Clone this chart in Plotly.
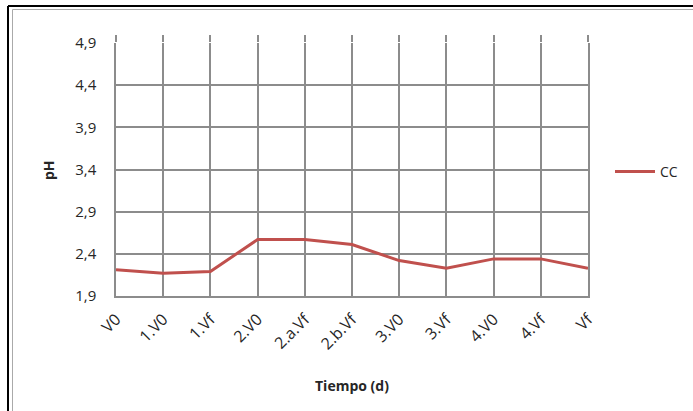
import plotly.graph_objects as go

categories = ["V0", "1.V0", "1.Vf", "2.V0", "2.a.Vf", "2.b.Vf", "3.V0", "3.Vf", "4.V0", "4.Vf", "Vf"]
cc_values = [2.21, 2.17, 2.19, 2.57, 2.57, 2.51, 2.32, 2.23, 2.34, 2.34, 2.23]
y_ticks = [1.9, 2.4, 2.9, 3.4, 3.9, 4.4, 4.9]
y_tick_labels = ["1,9", "2,4", "2,9", "3,4", "3,9", "4,4", "4,9"]

FONT = "Open Sans"
GRID = "#8c8c8c"
TXT = "#262626"

fig = go.Figure()
fig.add_trace(go.Scatter(
    x=list(range(len(categories))), y=cc_values, mode="lines", name="CC",
    line=dict(color="#C0504D", width=3),
))
# invisible trace for top tick marks
fig.add_trace(go.Scatter(x=[0, len(categories) - 1], y=[None, None], xaxis="x2",
                         showlegend=False, hoverinfo="skip"))

PW, PH, L, T = 472, 253, 116, 43

fig.update_layout(
    width=693, height=411,
    margin=dict(l=L, r=693 - L - PW, t=T, b=411 - T - PH, autoexpand=False),
    paper_bgcolor="white", plot_bgcolor="white",
    font=dict(family=FONT, size=12, color=TXT),
    xaxis=dict(
        range=[0, len(categories) - 1], automargin=False,
        tickmode="array", tickvals=list(range(len(categories))), ticktext=categories,
        tickangle=-45, showgrid=True, gridcolor=GRID, gridwidth=1.5,
        showline=True, linecolor=GRID, linewidth=1.5, mirror=False,
        ticks="", zeroline=False, ticklabelstandoff=6,
        tickfont=dict(family=FONT, size=16, color=TXT),
    ),
    xaxis2=dict(
        overlaying="x", side="top", range=[0, len(categories) - 1], automargin=False,
        tickmode="array", tickvals=list(range(len(categories))), showticklabels=False,
        ticks="outside", ticklen=7, tickcolor=GRID, tickwidth=1.5,
        showgrid=False, showline=False, zeroline=False,
    ),
    yaxis=dict(
        range=[1.9, 4.9], automargin=False, tickmode="array", tickvals=y_ticks, ticktext=y_tick_labels,
        showgrid=True, gridcolor=GRID, gridwidth=1.5,
        showline=True, linecolor=GRID, linewidth=1.5, mirror=True,
        ticks="", zeroline=False, ticklabelstandoff=15,
        tickfont=dict(family=FONT, size=15, color=TXT),
    ),
    legend=dict(x=(618 - L - 8) / PW, y=(T + PH - 172) / PH, xanchor="left", yanchor="middle",
                font=dict(family=FONT, size=14, color=TXT),
                itemwidth=40, bgcolor="rgba(0,0,0,0)"),
    annotations=[
        dict(text="<b>Tiempo (d)</b>", xref="paper", yref="paper", x=(352 - L) / PW,
             y=-(385 - T - PH) / PH, showarrow=False, xanchor="center", yanchor="middle",
             font=dict(family=FONT, size=14, color=TXT)),
        dict(text="<b>pH</b>", xref="paper", yref="paper", x=-(L - 48) / PW,
             y=(T + PH - 170) / PH, showarrow=False, xanchor="center", yanchor="middle",
             textangle=-90, font=dict(family=FONT, size=14, color=TXT)),
    ],
    shapes=[
        dict(type="line", xref="paper", yref="paper", x0=(8 - L) / PW, x1=(8 - L) / PW,
             y0=-(411 - T - PH) / PH, y1=(T + PH - 6) / PH, line=dict(color="black", width=2)),
        dict(type="line", xref="paper", yref="paper", x0=(8 - L) / PW, x1=(693 - L) / PW,
             y0=(T + PH - 6) / PH, y1=(T + PH - 6) / PH, line=dict(color="black", width=2)),
        dict(type="line", xref="paper", yref="paper", x0=(12.5 - L) / PW, x1=(12.5 - L) / PW,
             y0=-(411 - T - PH) / PH, y1=(T + PH - 9.5) / PH, line=dict(color="#aaaaaa", width=1)),
        dict(type="line", xref="paper", yref="paper", x0=(12.5 - L) / PW, x1=(693 - L) / PW,
             y0=(T + PH - 9.5) / PH, y1=(T + PH - 9.5) / PH, line=dict(color="#aaaaaa", width=1)),
    ],
)

fig.write_html("out.html", config={"displayModeBar": False},
               post_script="document.body.style.margin='0';document.body.style.padding='0';")
